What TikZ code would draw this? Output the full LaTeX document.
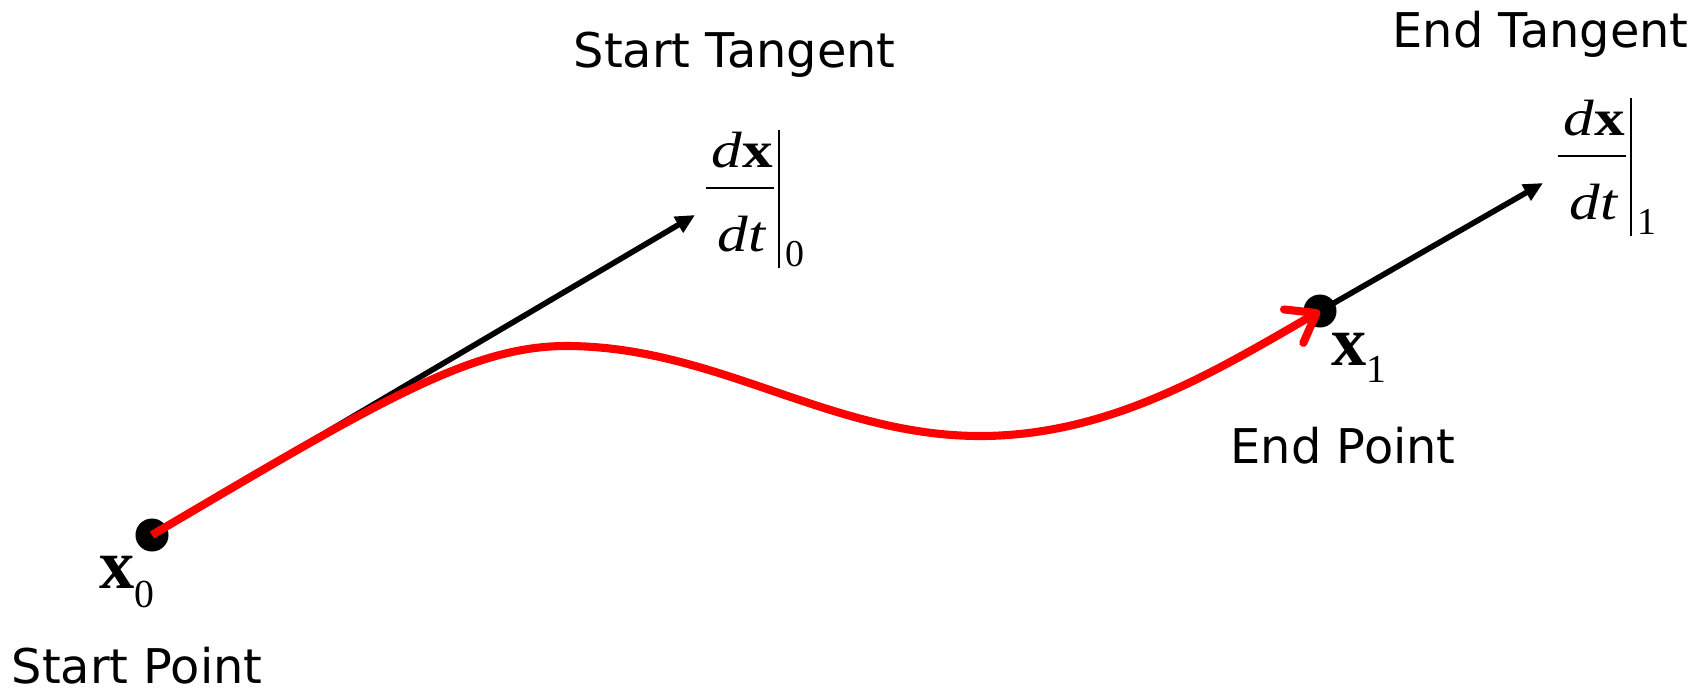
\documentclass[tikz,border=0pt]{standalone}
\usepackage{graphicx}
\usepackage{fontspec}
\setmainfont{Liberation Serif}
\setsansfont{DejaVu Sans}
\usetikzlibrary{arrows.meta}

\tikzset{
  ptdot/.style={circle,fill=black,inner sep=0pt,minimum size=0.33cm},
  ptname/.style={font=\sffamily\fontsize{13.6}{16}\selectfont,anchor=base west,inner sep=0pt},
  ptvec/.style={font=\fontsize{20}{22}\selectfont,anchor=base west,inner sep=0pt},
  tanfrac/.style={font=\fontsize{14.5}{16}\selectfont,inner sep=0pt},
  tansub/.style={font=\fontsize{10.8}{12}\selectfont,inner sep=0pt,anchor=base west},
  fracbar/.style={line width=0.6pt},
  tanline/.style={line width=1.6pt,-{Triangle[length=5.5pt,width=5pt]}},
  curveline/.style={red,line width=2.3pt,-{Straight Barb[length=7.5pt,width=11pt,round]}}
}

\begin{document}
\begin{tikzpicture}[x=0.01cm,y=-0.01cm]
  \useasboundingbox (0,0) rectangle (1708,693);
  % end points
  \node[ptdot] (x0) at (152,535) {};
  \node[ptdot] (x1) at (1320,311) {};
  \coordinate (tip0) at (695,215);
  \coordinate (tip1) at (1543,183);
  % tangents
  \draw[tanline] (x0.center) -- (tip0);
  \draw[tanline] (x1.center) -- (tip1);
  % the curve
  \draw[curveline] (x0.center) .. controls (376,403) and (470,346) .. (566,346)
    .. controls (716,346) and (830,436) .. (980,436)
    .. controls (1110,436) and (1216,371) .. (x1.center);
  % labels
  \node[ptvec] (lx0) at (99,588) {\textbf{x}\raisebox{-0.19cm}{\fontsize{11.3}{13}\selectfont 0}};
  \node[ptvec] (lx1) at (1331,365) {\textbf{x}\raisebox{-0.17cm}{\fontsize{11.3}{13}\selectfont 1}};
  \node[ptname] (spt) at (11,683) {Start Point};
  \node[ptname] (ept) at (1230,463) {End Point};
  \node[ptname] (stan) at (573,67) {Start Tangent};
  \node[ptname] (etan) at (1392,47) {End Tangent};
  % derivatives
  \foreach \k/\bx/\by in {0/740/188, 1/1592/156} {
    \draw[fracbar] (\bx-34,\by) -- (\bx+34,\by);
    \node[tanfrac,anchor=base] (num\k) at (\bx+2,\by-21) {\scalebox{1.2}[1]{\textit{d}\textbf{x}}};
    \node[tanfrac,anchor=base] (den\k) at (\bx+2,\by+63) {\scalebox{1.2}[1]{\textit{dt}}};
    \draw[fracbar] (\bx+39,\by-58) -- (\bx+39,\by+80);
    \node[tansub] (sub\k) at (\bx+45,\by+78) {\k};
  }
\end{tikzpicture}
\end{document}
